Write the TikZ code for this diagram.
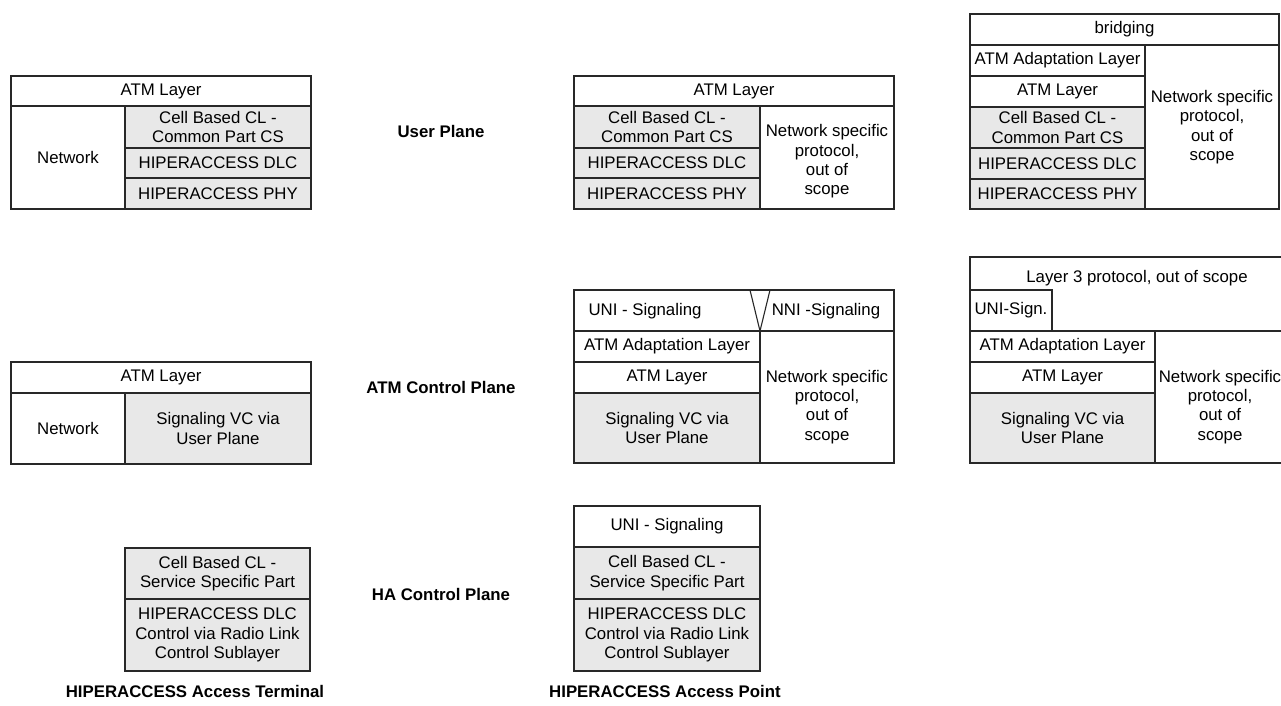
\documentclass[tikz,border=0pt]{standalone}
\usepackage{fontspec}
\setmainfont{Liberation Sans}
\usetikzlibrary{positioning}
\definecolor{layergrey}{RGB}{232,232,232}
\definecolor{layerline}{RGB}{40,40,40}

\begin{document}
\begin{tikzpicture}[
  x=1pt, y=-1pt,
  cell/.style={
    draw=layerline,
    rectangle,
    line width=1.1pt,
    align=center,
    inner sep=0pt,
    outer sep=0pt,
    font=\fontsize{16.8}{19.3}\selectfont
  },
  gcell/.style={cell, fill=layergrey}, % grey = HIPERACCESS part
  sz/.style 2 args={minimum width=#1pt, minimum height=#2pt},
  txt/.style={align=center, inner sep=0pt, font=\fontsize{16.8}{19.3}\selectfont},
  plane/.style={align=center, inner sep=0pt, font=\fontsize{16.8}{19.3}\selectfont\bfseries}
]
\useasboundingbox (0,0) rectangle (1281,705);
\fill[white] (0,0) rectangle (1281,705);
\clip (0,0) rectangle (1281,705);

% User plane, access terminal
\node[cell, sz={300}{30}, anchor=north west] (atmA) at (11,76) {ATM Layer};
\node[cell, sz={114}{103}, below=0pt of atmA.south west, anchor=north west] (netA) {Network};
\node[gcell, sz={186}{42}, below=0pt of netA.north east, anchor=north west] (cbA) {Cell Based CL -\\Common Part CS};
\node[gcell, sz={186}{30}, below=0pt of cbA.south west, anchor=north west] (dlcA) {HIPERACCESS DLC};
\node[gcell, sz={186}{31}, below=0pt of dlcA.south west, anchor=north west] (phyA) {HIPERACCESS PHY};

% User plane, access point
\node[cell, sz={320}{30}, anchor=north west] (atmB) at (574,76) {ATM Layer};
\node[gcell, sz={186}{42}, below=0pt of atmB.south west, anchor=north west] (cbB) {Cell Based CL -\\Common Part CS};
\node[gcell, sz={186}{30}, below=0pt of cbB.south west, anchor=north west] (dlcB) {HIPERACCESS DLC};
\node[gcell, sz={186}{31}, below=0pt of dlcB.south west, anchor=north west] (phyB) {HIPERACCESS PHY};
\node[cell, sz={134}{103}, below=0pt of cbB.north east, anchor=north west] (nsB) {\rule{0pt}{20pt}Network specific\\protocol,\\out of\\scope};

% User plane, bridging
\node[cell, sz={309}{31}, anchor=north west] (brC) at (970,14) {bridging};
\node[cell, sz={175}{31}, below=0pt of brC.south west, anchor=north west] (aalC) {ATM Adaptation Layer};
\node[cell, sz={175}{31}, below=0pt of aalC.south west, anchor=north west] (atmC) {ATM Layer};
\node[gcell, sz={175}{41}, below=0pt of atmC.south west, anchor=north west] (cbC) {Cell Based CL -\\Common Part CS};
\node[gcell, sz={175}{31}, below=0pt of cbC.south west, anchor=north west] (dlcC) {HIPERACCESS DLC};
\node[gcell, sz={175}{30}, below=0pt of dlcC.south west, anchor=north west] (phyC) {HIPERACCESS PHY};
\node[cell, sz={134}{164}, below=0pt of aalC.north east, anchor=north west] (nsC) {Network specific\\protocol,\\out of\\scope};

% ATM control plane, access terminal
\node[cell, sz={300}{31}, anchor=north west] (atmD) at (11,362) {ATM Layer};
\node[cell, sz={114}{71}, below=0pt of atmD.south west, anchor=north west] (netD) {Network};
\node[gcell, sz={186}{71}, below=0pt of netD.north east, anchor=north west] (sigD) {Signaling VC via\\User Plane};

% ATM control plane, access point
\node[cell, sz={320}{41}, anchor=north west] (sigrowE) at (574,290) {};
\node[txt] (uniE) at (645,311) {UNI - Signaling};
\node[txt] (nniE) at (826,311) {NNI -Signaling};
\draw[layerline, line width=1.1pt] ([xshift=176pt]sigrowE.north west) -- ([xshift=186pt]sigrowE.south west) -- ([xshift=196pt]sigrowE.north west);
\node[cell, sz={186}{31}, below=0pt of sigrowE.south west, anchor=north west] (aalE) {ATM Adaptation Layer};
\node[cell, sz={186}{31}, below=0pt of aalE.south west, anchor=north west] (atmE) {ATM Layer};
\node[gcell, sz={186}{70}, below=0pt of atmE.south west, anchor=north west] (sigE) {Signaling VC via\\User Plane};
\node[cell, sz={134}{132}, below=0pt of aalE.north east, anchor=north west] (nsE) {\rule{0pt}{32pt}Network specific\\protocol,\\out of\\scope};

% ATM control plane, network side
\node[cell, sz={330}{74}, anchor=north west] (lthreeF) at (970,257) {};
\node[txt] (lthreeT) at (1137,278) {Layer 3 protocol, out of scope};
\node[cell, sz={82}{41}, anchor=south west] (uniF) at (lthreeF.south west) {UNI-Sign.};
\node[cell, sz={185}{31}, below=0pt of lthreeF.south west, anchor=north west] (aalF) {ATM Adaptation Layer};
\node[cell, sz={185}{31}, below=0pt of aalF.south west, anchor=north west] (atmF) {ATM Layer};
\node[gcell, sz={185}{70}, below=0pt of atmF.south west, anchor=north west] (sigF) {Signaling VC via\\User Plane};
\node[cell, sz={130}{132}, below=0pt of aalF.north east, anchor=north west] (nsF) {\rule{0pt}{32pt}Network specific\\protocol,\\out of\\scope};

% HA control plane
\node[gcell, sz={185}{51}, anchor=north west] (cbG) at (125,548) {Cell Based CL -\\Service Specific Part};
\node[gcell, sz={185}{72}, below=0pt of cbG.south west, anchor=north west] (dlcG) {HIPERACCESS DLC\\Control via Radio Link\\Control Sublayer};
\node[cell, sz={186}{41}, anchor=north west] (uniH) at (574,506) {UNI - Signaling};
\node[gcell, sz={186}{52}, below=0pt of uniH.south west, anchor=north west] (cbH) {Cell Based CL -\\Service Specific Part};
\node[gcell, sz={186}{72}, below=0pt of cbH.south west, anchor=north west] (dlcH) {HIPERACCESS DLC\\Control via Radio Link\\Control Sublayer};

% Plane and station labels
\node[plane] (upl) at (441,131) {User Plane};
\node[plane] (acp) at (441,387) {ATM Control Plane};
\node[plane] (hcp) at (441,594) {HA Control Plane};
\node[plane] (term) at (195,691) {HIPERACCESS Access Terminal};
\node[plane] (point) at (665,691) {HIPERACCESS Access Point};

\end{tikzpicture}
\end{document}
